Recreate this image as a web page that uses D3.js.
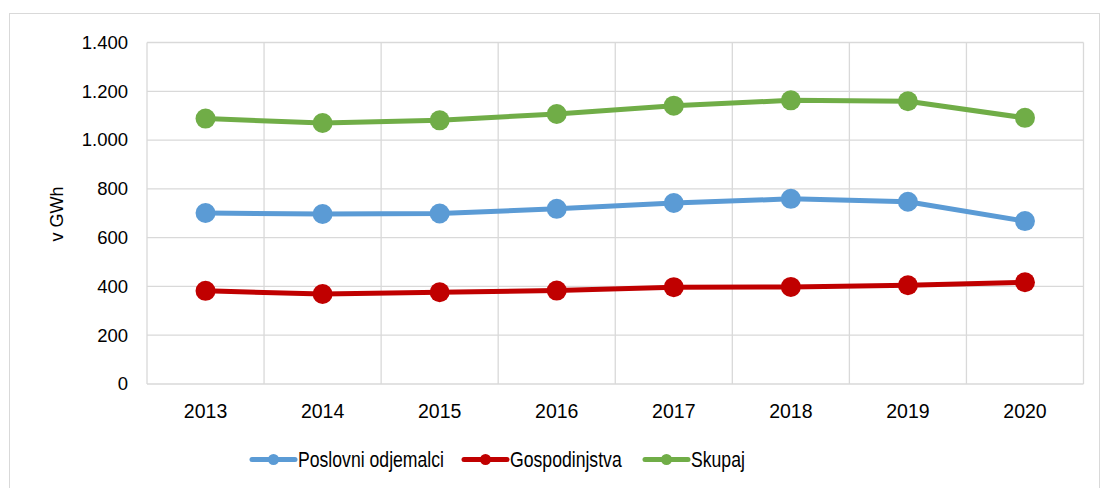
<!doctype html>
<html lang="sl">
<head>
<meta charset="utf-8">
<title>Poraba elektrike</title>
<script src="https://cdn.jsdelivr.net/npm/d3@7/dist/d3.min.js"></script>
<style>
  body { margin: 0; background: #fff; }
  svg { font-family: "Liberation Sans", Arial, sans-serif; }
  .grid line { stroke: #d9d9d9; stroke-width: 1.3px; }
  .axis text { fill: #000; font-size: 18.5px; }
  .axis--x text { font-size: 19.5px; }
  .axis path, .axis line { display: none; }
  .line { fill: none; stroke-width: 5px; stroke-linejoin: round; }
</style>
</head>
<body>
<svg width="1100" height="488"></svg>
<script>

var years = ["2013", "2014", "2015", "2016", "2017", "2018", "2019", "2020"];
var poslovni = [701, 697, 699, 718, 742, 759, 747, 668];
var gospodinjstva = [382, 369, 376, 383, 397, 398, 405, 417];
var skupaj = [1088, 1070, 1081, 1107, 1141, 1163, 1159, 1091];
var yTicks = [0, 200, 400, 600, 800, 1000, 1200, 1400];

var series = [
  { name: "Poslovni odjemalci", values: poslovni, color: "#5b9bd5" },
  { name: "Gospodinjstva", values: gospodinjstva, color: "#c00000" },
  { name: "Skupaj", values: skupaj, color: "#70ad47" }
];

var svg = d3.select("svg"),
    margin = {top: 42.5, right: 16.5, bottom: 104, left: 147},
    width = svg.attr("width") - margin.left - margin.right,
    height = svg.attr("height") - margin.top - margin.bottom;

// okvir grafa
svg.append("rect")
    .attr("x", 9.5).attr("y", 13.5)
    .attr("width", 1090).attr("height", 490)
    .attr("fill", "none")
    .attr("stroke", "#d9d9d9");

var g = svg.append("g").attr("transform", "translate(" + margin.left + "," + margin.top + ")");

var x = d3.scaleBand().domain(years).range([0, width]);
var y = d3.scaleLinear().domain([0, 1400]).range([height, 0]);

var fmt = function(d) { return d3.format(",")(d).replace(/,/g, "."); };

// mreza
var grid = g.append("g").attr("class", "grid");
grid.selectAll(".h").data(yTicks).enter().append("line")
    .attr("x1", 0).attr("x2", width)
    .attr("y1", function(d) { return y(d); })
    .attr("y2", function(d) { return y(d); });
grid.selectAll(".v").data(years.concat(["end"])).enter().append("line")
    .attr("x1", function(d, i) { return i * x.bandwidth(); })
    .attr("x2", function(d, i) { return i * x.bandwidth(); })
    .attr("y1", 0).attr("y2", height);

g.append("g")
    .attr("class", "axis axis--x")
    .attr("transform", "translate(0," + height + ")")
    .call(d3.axisBottom(x).tickSize(0).tickPadding(20));

g.append("g")
    .attr("class", "axis")
    .call(d3.axisLeft(y).tickValues(yTicks).tickFormat(fmt).tickSize(0).tickPadding(19));

svg.append("text")
    .attr("transform", "translate(63,214) rotate(-90)")
    .attr("text-anchor", "middle")
    .style("font-size", "18px")
    .text("v GWh");

var line = d3.line()
    .x(function(d, i) { return x(years[i]) + x.bandwidth() / 2; })
    .y(function(d) { return y(d); });

var s = g.selectAll(".serie").data(series).enter().append("g");

s.append("path")
    .attr("class", "line")
    .attr("d", function(d) { return line(d.values); })
    .style("stroke", function(d) { return d.color; });

s.selectAll("circle")
    .data(function(d) { return d.values.map(function(v) { return {v: v, c: d.color}; }); })
    .enter().append("circle")
    .attr("cx", function(d, i) { return x(years[i]) + x.bandwidth() / 2; })
    .attr("cy", function(d) { return y(d.v); })
    .attr("r", 10)
    .style("fill", function(d) { return d.c; });

// legenda
var legendX = [252, 464, 645];
var lg = svg.selectAll(".legend").data(series).enter().append("g")
    .attr("transform", function(d, i) { return "translate(" + legendX[i] + ",459.5)"; });

lg.append("line")
    .attr("x1", 0).attr("x2", 43)
    .attr("stroke", function(d) { return d.color; })
    .attr("stroke-width", 5)
    .attr("stroke-linecap", "round");

lg.append("circle")
    .attr("cx", 21.5).attr("r", 5.5)
    .style("fill", function(d) { return d.color; });

lg.append("text")
    .attr("transform", "translate(46,7.5) scale(0.82,1)")
    .style("font-size", "21.5px")
    .text(function(d) { return d.name; });

</script>
</body>
</html>
